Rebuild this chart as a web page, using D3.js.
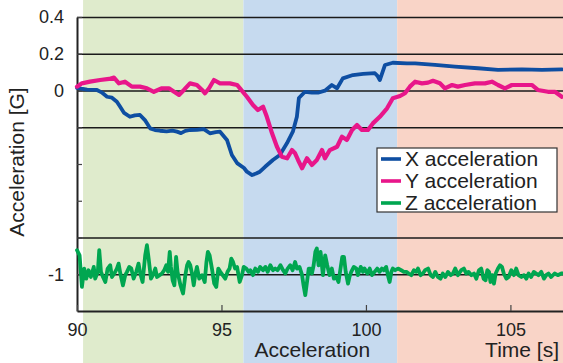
<!DOCTYPE html>
<html>
<head>
<meta charset="utf-8">
<script src="https://cdn.jsdelivr.net/npm/d3@7"></script>
<style>
  html, body { margin: 0; padding: 0; background: #fff; }
  svg { display: block; font-family: "Liberation Sans", Arial, Helvetica, sans-serif; }
</style>
</head>
<body>
<svg id="chart" width="563" height="363"></svg>
<script>
// ---- data ----
const phases = [
  { name: "phase1", start: 90.21, end: 95.76, color: "#dfebcc" },
  { name: "Acceleration", start: 95.76, end: 101.08, color: "#c6daef" },
  { name: "phase3", start: 101.08, end: 106.82, color: "#f9d4c7" }
];
const yTickValues = [0.4, 0.2, 0, -0.2, -0.4, -0.6, -0.8, -1];
const yLabelledTicks = [0.4, 0.2, 0, -1];
const yGridValues = [0.4, 0.2, 0, -0.2, -0.8, -1];
const xTickValues = [90, 95, 100, 105];
const seriesNames = ["X acceleration", "Y acceleration", "Z acceleration"];
const seriesColors = ["#0e4ea2", "#e8168a", "#00a650"];

const xAccel = [[90.00,0.014],[90.35,0.005],[90.69,0.003],[90.85,-0.010],[91.04,-0.034],[91.21,-0.039],[91.38,-0.061],[91.50,-0.090],[91.63,-0.122],[91.83,-0.143],[92.00,-0.135],[92.18,-0.133],[92.35,-0.161],[92.53,-0.206],[92.70,-0.215],[92.87,-0.219],[93.10,-0.222],[93.30,-0.218],[93.46,-0.224],[93.60,-0.232],[93.75,-0.220],[93.91,-0.215],[94.15,-0.214],[94.39,-0.210],[94.60,-0.233],[94.80,-0.226],[94.95,-0.224],[95.19,-0.269],[95.36,-0.351],[95.54,-0.395],[95.78,-0.422],[95.88,-0.442],[96.06,-0.460],[96.20,-0.452],[96.33,-0.442],[96.51,-0.415],[96.78,-0.378],[97.02,-0.351],[97.27,-0.286],[97.47,-0.224],[97.61,-0.143],[97.68,-0.041],[97.89,-0.007],[98.13,-0.012],[98.34,-0.012],[98.58,-0.001],[98.82,0.030],[99.00,0.012],[99.20,0.066],[99.55,0.084],[99.90,0.090],[100.31,0.094],[100.40,0.080],[100.48,0.057],[100.66,0.139],[100.93,0.151],[101.42,0.148],[101.70,0.148],[102.39,0.139],[103.08,0.130],[103.88,0.121],[104.57,0.112],[105.40,0.115],[106.09,0.112],[106.78,0.115]];

const yAccel = [[90.00,0.021],[90.17,0.039],[90.45,0.048],[90.80,0.057],[91.11,0.063],[91.28,0.070],[91.45,0.039],[91.66,0.048],[91.90,0.021],[92.18,0.021],[92.42,0.012],[92.66,-0.007],[92.94,0.012],[93.18,0.012],[93.36,-0.007],[93.53,-0.024],[93.70,0.003],[93.91,0.039],[94.15,0.030],[94.33,0.003],[94.43,-0.015],[94.57,0.012],[94.74,0.057],[94.95,0.039],[95.29,0.039],[95.54,0.030],[95.64,0.012],[95.88,-0.034],[96.09,-0.079],[96.26,-0.106],[96.44,-0.088],[96.57,-0.143],[96.75,-0.233],[96.92,-0.306],[97.09,-0.360],[97.27,-0.369],[97.44,-0.324],[97.54,-0.340],[97.65,-0.378],[97.79,-0.423],[97.96,-0.369],[98.13,-0.405],[98.30,-0.378],[98.48,-0.324],[98.58,-0.369],[98.75,-0.324],[99.00,-0.306],[99.17,-0.251],[99.34,-0.269],[99.52,-0.215],[99.69,-0.188],[99.86,-0.215],[100.07,-0.215],[100.24,-0.179],[100.48,-0.143],[100.73,-0.097],[100.93,-0.042],[101.18,-0.030],[101.35,-0.015],[101.52,0.021],[101.70,0.048],[101.94,0.039],[102.15,0.043],[102.32,0.053],[102.56,0.039],[102.73,0.012],[102.98,0.030],[103.18,0.021],[103.43,0.030],[103.77,0.039],[104.12,0.039],[104.36,0.048],[104.57,0.030],[104.81,0.012],[105.05,0.030],[105.40,0.030],[105.74,0.030],[105.95,0.003],[106.30,-0.007],[106.54,-0.007],[106.78,-0.034]];

const zAccel = [[90.00,-0.869],[90.09,-0.897],[90.17,-1.069],[90.25,-0.969],[90.32,-1.024],[90.40,-0.978],[90.48,-1.015],[90.58,-0.960],[90.63,-1.024],[90.72,-0.987],[90.77,-0.869],[90.83,-0.987],[90.90,-1.015],[90.98,-1.042],[91.06,-0.969],[91.15,-0.951],[91.21,-1.015],[91.29,-0.996],[91.38,-0.969],[91.44,-0.942],[91.50,-0.996],[91.59,-1.060],[91.67,-1.005],[91.73,-0.987],[91.81,-0.960],[91.88,-0.969],[91.96,-1.024],[92.05,-0.987],[92.13,-0.942],[92.19,-0.996],[92.27,-1.042],[92.36,-0.897],[92.42,-0.842],[92.48,-0.915],[92.56,-1.024],[92.63,-1.005],[92.71,-0.969],[92.77,-1.015],[92.86,-1.005],[92.94,-0.996],[93.02,-0.978],[93.09,-0.951],[93.15,-0.987],[93.21,-0.878],[93.25,-0.960],[93.31,-1.033],[93.37,-1.060],[93.43,-0.906],[93.48,-0.987],[93.58,-1.060],[93.67,-1.105],[93.75,-1.005],[93.81,-0.951],[93.86,-0.933],[93.92,-0.951],[93.98,-0.996],[94.04,-1.060],[94.09,-1.005],[94.15,-0.960],[94.23,-1.024],[94.33,-1.005],[94.42,-1.042],[94.48,-0.933],[94.53,-0.878],[94.59,-0.897],[94.67,-0.969],[94.75,-1.051],[94.82,-1.069],[94.89,-0.969],[94.96,-0.987],[95.04,-1.005],[95.13,-1.024],[95.21,-0.987],[95.28,-0.969],[95.34,-0.915],[95.40,-0.933],[95.47,-0.969],[95.54,-0.960],[95.63,-1.042],[95.71,-1.005],[95.77,-0.960],[95.86,-0.969],[95.94,-0.987],[96.00,-0.978],[96.09,-1.005],[96.17,-0.969],[96.26,-0.987],[96.34,-0.960],[96.44,-0.978],[96.52,-0.960],[96.60,-0.987],[96.69,-0.951],[96.78,-0.978],[96.86,-0.969],[96.94,-0.978],[97.04,-0.951],[97.13,-0.978],[97.21,-0.996],[97.29,-0.969],[97.38,-0.951],[97.46,-0.978],[97.55,-0.933],[97.61,-0.969],[97.70,-0.960],[97.79,-1.005],[97.84,-1.060],[97.90,-1.114],[97.96,-1.042],[98.02,-0.969],[98.07,-0.969],[98.13,-0.996],[98.19,-0.951],[98.25,-0.878],[98.30,-0.860],[98.36,-0.951],[98.43,-0.878],[98.51,-1.005],[98.59,-0.897],[98.66,-0.951],[98.74,-1.005],[98.82,-0.969],[98.89,-1.024],[98.97,-1.015],[99.05,-1.042],[99.12,-0.969],[99.18,-0.906],[99.24,-0.906],[99.30,-0.987],[99.38,-1.051],[99.43,-1.015],[99.49,-0.987],[99.58,-0.960],[99.67,-0.969],[99.72,-1.005],[99.82,-0.960],[99.90,-0.987],[99.95,-0.969],[100.05,-0.996],[100.13,-0.969],[100.21,-1.005],[100.30,-0.987],[100.39,-0.969],[100.47,-0.987],[100.55,-0.969],[100.62,-0.978],[100.70,-0.960],[100.76,-1.005],[100.82,-1.042],[100.88,-0.987],[100.93,-0.969],[101.01,-0.978],[101.11,-0.969],[101.22,-0.978],[101.31,-0.987],[101.40,-0.987],[101.48,-0.996],[101.57,-1.005],[101.66,-0.978],[101.74,-0.987],[101.80,-0.969],[101.89,-1.005],[101.97,-0.996],[102.05,-0.978],[102.15,-0.969],[102.24,-1.005],[102.32,-1.015],[102.40,-0.987],[102.49,-1.015],[102.58,-1.024],[102.66,-0.996],[102.75,-1.015],[102.84,-0.987],[102.93,-1.005],[103.01,-0.996],[103.09,-0.969],[103.18,-1.005],[103.30,-0.978],[103.39,-0.969],[103.47,-0.996],[103.55,-0.987],[103.65,-1.005],[103.74,-0.996],[103.82,-1.024],[103.91,-0.978],[103.99,-0.969],[104.07,-1.024],[104.14,-1.033],[104.20,-0.978],[104.26,-0.987],[104.31,-1.042],[104.37,-1.005],[104.43,-1.051],[104.49,-0.996],[104.57,-0.969],[104.64,-0.951],[104.71,-0.960],[104.77,-0.996],[104.86,-1.024],[104.94,-1.015],[105.03,-0.978],[105.12,-1.005],[105.20,-0.969],[105.28,-1.005],[105.38,-1.015],[105.47,-1.005],[105.55,-1.024],[105.63,-0.996],[105.72,-1.015],[105.81,-0.987],[105.89,-0.996],[105.97,-1.005],[106.07,-0.987],[106.16,-1.024],[106.24,-1.005],[106.32,-0.996],[106.41,-1.015],[106.53,-0.996],[106.64,-1.005],[106.76,-0.996],[106.82,-0.996]];

// ---- chart ----
const W = 563, H = 363;
const M = { left: 77, right: 0, top: 17, bottom: 52 };
const svg = d3.select("#chart");

const x = d3.scaleLinear().domain([90, 106.82]).range([M.left, W - M.right]);
const y = d3.scaleLinear().domain([-1.2, 0.4]).range([H - M.bottom, M.top]);

// phase bands (full height)
svg.append("g").selectAll("rect").data(phases).join("rect")
  .attr("x", d => x(d.start))
  .attr("width", d => x(d.end) - x(d.start))
  .attr("y", 0).attr("height", H)
  .attr("fill", d => d.color);

// grid lines
const grid = svg.append("g")
  .attr("transform", `translate(${M.left},0)`)
  .call(d3.axisLeft(y).tickValues(yGridValues).tickSize(-(W - M.left)).tickFormat(""));
grid.select(".domain").remove();
grid.selectAll("line").attr("stroke", "#1a1a1a").attr("stroke-width", 1.5);

// y axis
const yAxis = svg.append("g")
  .attr("transform", `translate(${M.left},0)`)
  .call(d3.axisLeft(y).tickValues(yTickValues).tickSizeInner(-5).tickSizeOuter(0).tickPadding(13)
    .tickFormat(d => yLabelledTicks.includes(d) ? (d === 0 ? "0" : (d === -1 ? "-1" : d.toFixed(1))) : ""));
yAxis.select(".domain").attr("stroke", "#222").attr("stroke-width", 2);
yAxis.selectAll(".tick line").attr("stroke", "#444").attr("stroke-width", 1.2);
yAxis.selectAll("text").attr("font-size", 18).attr("fill", "#222")
  .attr("font-family", "Liberation Sans, Arial, sans-serif");

// x axis
const xAxis = svg.append("g")
  .attr("transform", `translate(0,${H - M.bottom})`)
  .call(d3.axisBottom(x).tickValues(xTickValues).tickSizeInner(-6).tickSizeOuter(0).tickPadding(12)
    .tickFormat(d3.format("d")));
xAxis.select(".domain").attr("stroke", "#222").attr("stroke-width", 2);
xAxis.selectAll(".tick line").attr("stroke", "#444").attr("stroke-width", 1.2);
xAxis.selectAll("text").attr("font-size", 18).attr("fill", "#222")
  .attr("font-family", "Liberation Sans, Arial, sans-serif");

// lines
const line = d3.line().x(d => x(d[0])).y(d => y(d[1]));
const allSeries = [zAccel, xAccel, yAccel];
const allColors = [seriesColors[2], seriesColors[0], seriesColors[1]];
const allWidths = [3.8, 3.8, 4.2];
svg.append("g").selectAll("path").data(allSeries).join("path")
  .attr("d", line)
  .attr("fill", "none")
  .attr("stroke", (d, i) => allColors[i])
  .attr("stroke-width", (d, i) => allWidths[i])
  .attr("stroke-linejoin", "round")
  .attr("stroke-linecap", "round");

// axis titles
svg.append("text")
  .attr("transform", `translate(24,162) rotate(-90)`)
  .attr("text-anchor", "middle")
  .attr("font-size", 21).attr("fill", "#222")
  .text("Acceleration [G]");

svg.append("text")
  .attr("x", x((phases[1].start + phases[1].end) / 2) - 8)
  .attr("y", 357)
  .attr("text-anchor", "middle")
  .attr("font-size", 21).attr("fill", "#222")
  .text("Acceleration");

svg.append("text")
  .attr("x", 559).attr("y", 357)
  .attr("text-anchor", "end")
  .attr("font-size", 21).attr("fill", "#222")
  .text("Time [s]");

// legend
const lg = svg.append("g").attr("transform", "translate(377,148)");
lg.append("rect").attr("width", 180).attr("height", 64)
  .attr("fill", "#fff").attr("stroke", "#333").attr("stroke-width", 1.2);
const items = lg.selectAll("g.item").data(seriesNames).join("g")
  .attr("class", "item")
  .attr("transform", (d, i) => `translate(0,${11 + i * 22})`);
items.append("line").attr("x1", 4).attr("x2", 24).attr("y1", 0).attr("y2", 0)
  .attr("stroke", (d, i) => seriesColors[i]).attr("stroke-width", 3.6);
items.append("text").attr("x", 28).attr("y", 7)
  .attr("font-size", 21).attr("fill", "#222")
  .text(d => d);
</script>
</body>
</html>
